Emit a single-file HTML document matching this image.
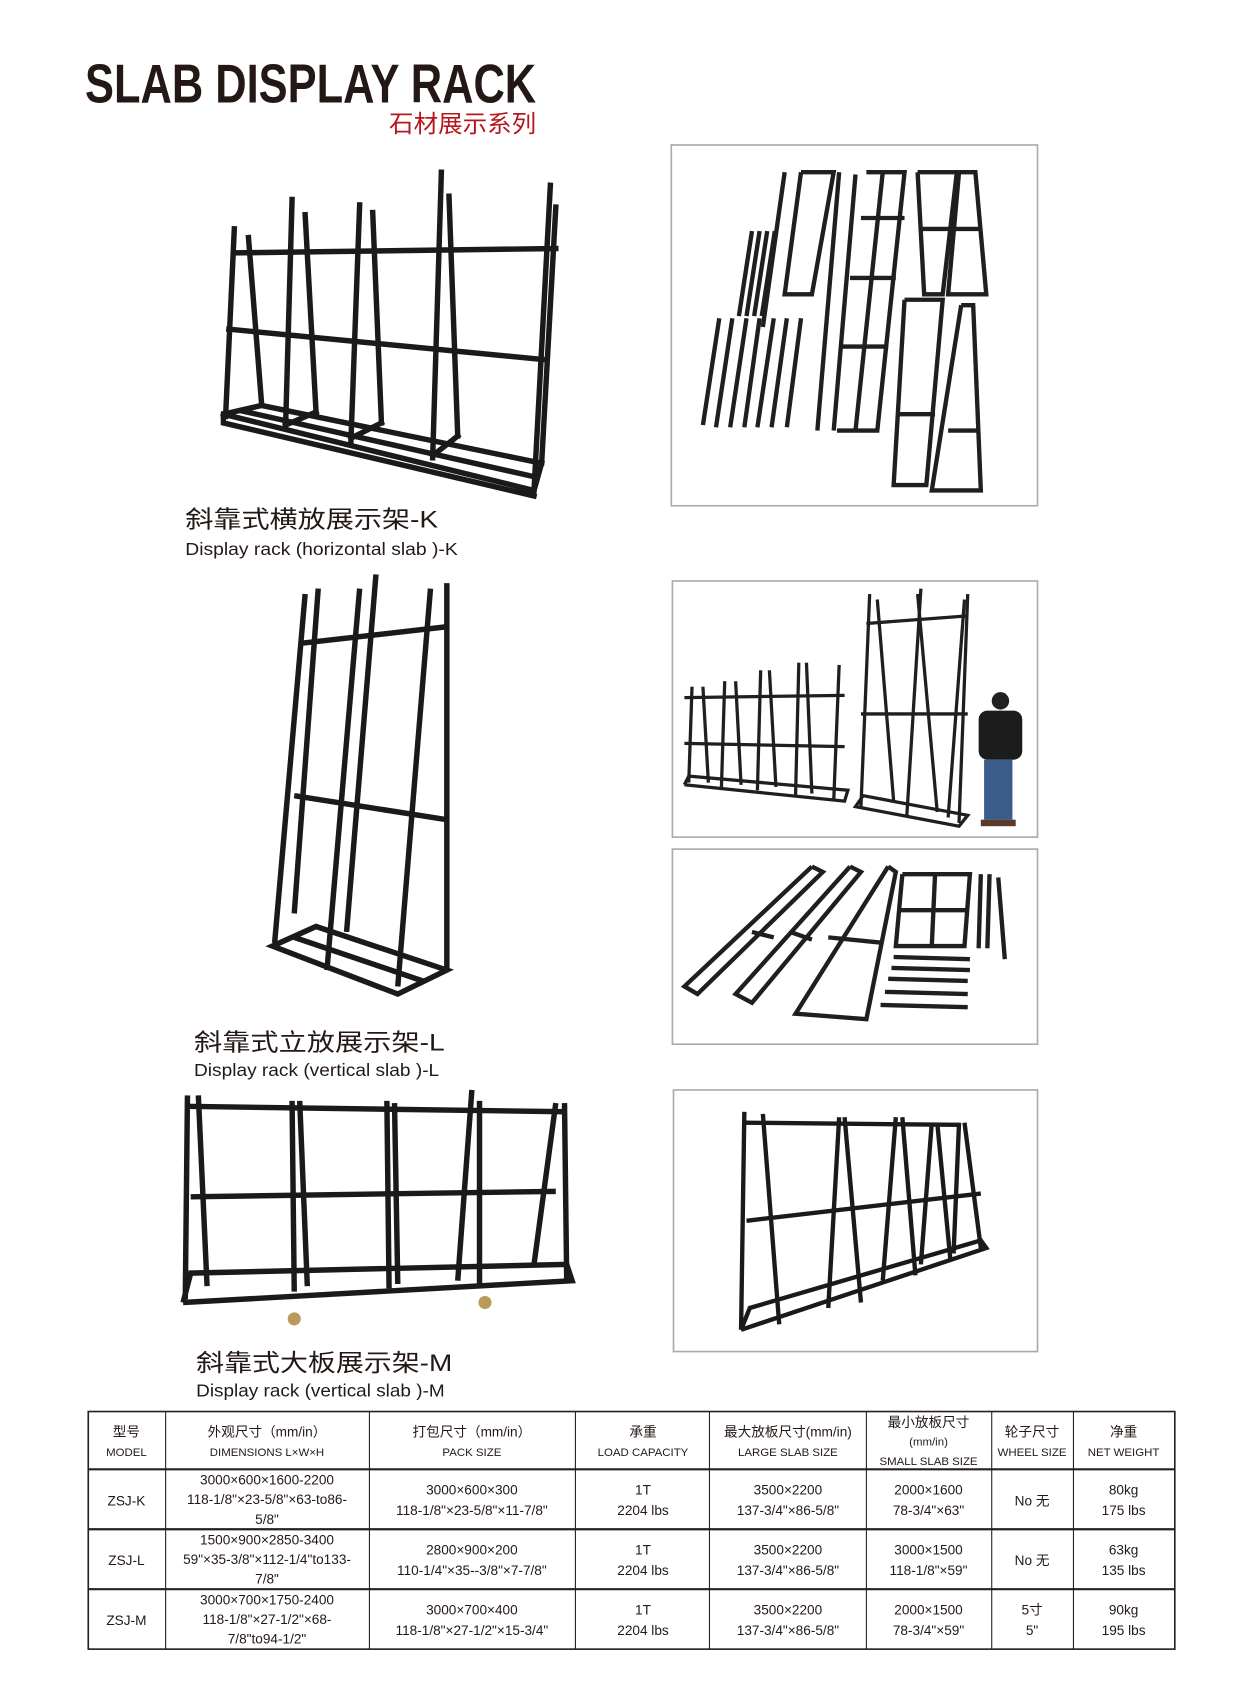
<!DOCTYPE html>
<html><head><meta charset="utf-8"><style>
html,body{margin:0;padding:0;background:#fff;}
svg{display:block}
.t{font-family:"Liberation Sans","Noto Sans CJK SC",sans-serif;fill:#231815}
</style></head><body>
<svg width="1256" height="1708" viewBox="0 0 1152.5 1567" preserveAspectRatio="none" xmlns="http://www.w3.org/2000/svg">
<rect width="1160" height="1577" fill="#fff"/>
<!-- title -->
<text class="t" x="78" y="94" font-size="50" font-weight="bold" textLength="414" lengthAdjust="spacingAndGlyphs">SLAB DISPLAY RACK</text>
<text class="t" x="357" y="121" font-size="22" style="fill:#b5171d" textLength="135" lengthAdjust="spacingAndGlyphs">石材展示系列</text>

<!-- Rack K -->
<g stroke="#1a1a1a" stroke-width="5" fill="none" stroke-linecap="square">
<line x1="215" y1="210" x2="207" y2="382"/><line x1="228" y1="218" x2="240" y2="370"/>
<line x1="268" y1="183" x2="262" y2="393"/><line x1="280" y1="197" x2="290" y2="378"/>
<line x1="330" y1="188" x2="322" y2="405"/><line x1="342" y1="195" x2="350" y2="388"/>
<line x1="405" y1="158" x2="397" y2="420"/><line x1="412" y1="180" x2="420" y2="400"/>
<line x1="505" y1="170" x2="490" y2="450"/><line x1="510" y1="190" x2="497" y2="425"/>
<line x1="215" y1="232" x2="510" y2="228"/>
<line x1="210" y1="302" x2="500" y2="330"/>
<polyline points="205,380 490,450 497,425 240,372 205,380 205,388 490,455"/>
<line x1="222" y1="377" x2="493" y2="438"/>
<line x1="262" y1="390" x2="290" y2="378"/><line x1="322" y1="402" x2="350" y2="388"/><line x1="397" y1="418" x2="420" y2="400"/>
</g>

<!-- Box 1 -->
<rect x="616" y="133" width="336" height="331" fill="#fff" stroke="#aaa" stroke-width="1.5"/>
<g stroke="#1f1f1f" stroke-width="4" fill="none">
<line x1="720" y1="158" x2="700" y2="300"/>
<polyline points="735,158 765,158 745,270 720,270 735,158"/>
<line x1="770" y1="158" x2="750" y2="395"/><line x1="785" y1="160" x2="765" y2="395"/>
<polyline points="795,158 830,158 805,395 768,395"/><line x1="810" y1="158" x2="785" y2="395"/>
<line x1="790" y1="200" x2="830" y2="200"/><line x1="780" y1="255" x2="822" y2="255"/><line x1="770" y1="318" x2="815" y2="318"/>
<polyline points="842,158 878,158 865,270 848,270 842,158"/><line x1="845" y1="210" x2="872" y2="210"/>
<polyline points="880,158 895,158 905,270 870,270 880,158"/><line x1="876" y1="210" x2="900" y2="210"/>
<polyline points="830,275 865,275 850,445 820,445 830,275"/><line x1="825" y1="380" x2="858" y2="380"/>
<polyline points="882,280 893,280 900,450 855,450 882,280"/><line x1="870" y1="395" x2="897" y2="395"/>
<line x1="690" y1="212" x2="678" y2="290"/><line x1="697" y1="212" x2="685" y2="290"/><line x1="704" y1="212" x2="692" y2="290"/><line x1="711" y1="212" x2="699" y2="290"/>
<line x1="660" y1="292" x2="645" y2="390"/><line x1="672" y1="292" x2="657" y2="392"/><line x1="685" y1="292" x2="670" y2="392"/><line x1="697" y1="292" x2="683" y2="392"/><line x1="710" y1="292" x2="695" y2="392"/><line x1="722" y1="292" x2="708" y2="392"/><line x1="735" y1="292" x2="722" y2="392"/>
</g>
<text class="t" x="170" y="484" font-size="22" textLength="232" lengthAdjust="spacingAndGlyphs">斜靠式横放展示架-K</text>
<text class="t" x="170" y="509" font-size="16" textLength="250" lengthAdjust="spacingAndGlyphs">Display rack (horizontal slab )-K</text>

<!-- Rack L -->
<g stroke="#1a1a1a" stroke-width="5" fill="none">
<line x1="280" y1="545" x2="252" y2="865"/><line x1="292" y1="540" x2="270" y2="838"/>
<line x1="330" y1="540" x2="300" y2="890"/><line x1="345" y1="527" x2="318" y2="855"/>
<line x1="395" y1="540" x2="365" y2="905"/><line x1="410" y1="535" x2="410" y2="890"/>
<line x1="278" y1="590" x2="410" y2="575"/><line x1="270" y1="730" x2="410" y2="752"/>
<polygon points="250,868 365,912 410,890 290,850"/>
<line x1="270" y1="860" x2="388" y2="900"/>
</g>
<text class="t" x="178" y="964" font-size="22" textLength="230" lengthAdjust="spacingAndGlyphs">斜靠式立放展示架-L</text>
<text class="t" x="178" y="987" font-size="16" textLength="225" lengthAdjust="spacingAndGlyphs">Display rack (vertical slab )-L</text>

<!-- Box 2 -->
<rect x="617" y="533" width="335" height="235" fill="#fff" stroke="#aaa" stroke-width="1.5"/>
<g stroke="#1f1f1f" stroke-width="3" fill="none">
<line x1="628" y1="640" x2="775" y2="638"/><line x1="628" y1="682" x2="775" y2="685"/>
<polyline points="628,720 775,735 778,725 632,712 628,720"/>
<line x1="635" y1="630" x2="632" y2="718"/><line x1="665" y1="625" x2="662" y2="722"/><line x1="698" y1="615" x2="695" y2="725"/><line x1="733" y1="608" x2="730" y2="730"/><line x1="770" y1="610" x2="765" y2="735"/>
<line x1="645" y1="630" x2="650" y2="718"/><line x1="675" y1="625" x2="680" y2="720"/><line x1="706" y1="615" x2="712" y2="722"/><line x1="740" y1="608" x2="745" y2="728"/>
<line x1="798" y1="545" x2="790" y2="740"/><line x1="845" y1="540" x2="832" y2="750"/><line x1="888" y1="545" x2="880" y2="755"/>
<line x1="805" y1="550" x2="820" y2="735"/><line x1="842" y1="545" x2="860" y2="745"/><line x1="885" y1="550" x2="870" y2="750"/>
<line x1="795" y1="572" x2="888" y2="565"/><line x1="790" y1="655" x2="888" y2="655"/>
<polygon points="785,740 880,758 888,748 792,730"/>
</g>
<g><circle cx="918" cy="643" r="8" fill="#222"/><rect x="898" y="652" width="40" height="45" rx="8" fill="#1c1c1c"/><rect x="903" y="697" width="26" height="55" fill="#3b5b8a"/><rect x="900" y="752" width="32" height="6" fill="#5a3a2a"/></g>

<!-- Box 3 -->
<rect x="617" y="779" width="335" height="179" fill="#fff" stroke="#aaa" stroke-width="1.5"/>
<g stroke="#1f1f1f" stroke-width="4" fill="none">
<polyline points="745,795 755,800 640,912 628,905 745,795"/><line x1="690" y1="855" x2="710" y2="860"/>
<polyline points="780,795 790,800 690,920 675,912 780,795"/><line x1="725" y1="855" x2="745" y2="862"/>
<polyline points="815,795 822,800 795,935 730,930 815,795"/><line x1="760" y1="860" x2="810" y2="865"/>
<polyline points="828,802 890,802 885,868 822,868 828,802"/><line x1="858" y1="802" x2="855" y2="868"/><line x1="825" y1="835" x2="888" y2="835"/>
<line x1="900" y1="802" x2="898" y2="870"/><line x1="908" y1="802" x2="906" y2="870"/><line x1="916" y1="805" x2="922" y2="880"/>
<line x1="820" y1="878" x2="890" y2="880"/><line x1="818" y1="888" x2="890" y2="890"/><line x1="815" y1="898" x2="888" y2="900"/><line x1="812" y1="910" x2="888" y2="912"/><line x1="808" y1="922" x2="888" y2="924"/>
</g>

<!-- Rack M -->
<g stroke="#1a1a1a" stroke-width="5" fill="none">
<line x1="170" y1="1015" x2="520" y2="1020"/><line x1="175" y1="1098" x2="510" y2="1093"/>
<polyline points="168,1195 525,1175 520,1160 175,1168 168,1195"/>
<line x1="172" y1="1005" x2="170" y2="1192"/><line x1="182" y1="1005" x2="190" y2="1180"/>
<line x1="268" y1="1010" x2="270" y2="1185"/><line x1="275" y1="1010" x2="282" y2="1180"/>
<line x1="355" y1="1010" x2="357" y2="1182"/><line x1="362" y1="1012" x2="365" y2="1178"/>
<line x1="433" y1="1000" x2="420" y2="1175"/><line x1="440" y1="1010" x2="440" y2="1178"/>
<line x1="510" y1="1012" x2="490" y2="1160"/><line x1="518" y1="1012" x2="520" y2="1175"/>
</g>
<circle cx="270" cy="1210" r="6" fill="#b89a5a"/><circle cx="445" cy="1195" r="6" fill="#b89a5a"/>
<text class="t" x="180" y="1258" font-size="22" textLength="235" lengthAdjust="spacingAndGlyphs">斜靠式大板展示架-M</text>
<text class="t" x="180" y="1281" font-size="16" textLength="228" lengthAdjust="spacingAndGlyphs">Display rack (vertical slab )-M</text>

<!-- Box 4 -->
<rect x="618" y="1000" width="334" height="240" fill="#fff" stroke="#aaa" stroke-width="1.5"/>
<g stroke="#1a1a1a" stroke-width="4" fill="none">
<line x1="683" y1="1030" x2="880" y2="1032"/><line x1="685" y1="1120" x2="900" y2="1095"/>
<polyline points="680,1220 905,1145 900,1138 688,1200 680,1220"/>
<line x1="683" y1="1020" x2="680" y2="1220"/><line x1="700" y1="1022" x2="715" y2="1215"/>
<line x1="770" y1="1025" x2="760" y2="1200"/><line x1="775" y1="1025" x2="790" y2="1195"/>
<line x1="822" y1="1025" x2="810" y2="1175"/><line x1="828" y1="1025" x2="840" y2="1170"/>
<line x1="855" y1="1030" x2="845" y2="1160"/><line x1="860" y1="1030" x2="872" y2="1155"/>
<line x1="880" y1="1030" x2="875" y2="1150"/><line x1="885" y1="1030" x2="900" y2="1145"/>
</g>

<!-- Table -->
<g stroke="#222" fill="none">
<rect x="81" y="1295" width="997" height="218" stroke-width="1.5"/>
<line x1="81" y1="1348" x2="1078" y2="1348" stroke-width="2"/>
<line x1="81" y1="1403" x2="1078" y2="1403" stroke-width="2"/>
<line x1="81" y1="1458" x2="1078" y2="1458" stroke-width="2"/>
<line x1="152" y1="1295" x2="152" y2="1513"/><line x1="339" y1="1295" x2="339" y2="1513"/><line x1="528" y1="1295" x2="528" y2="1513"/><line x1="651" y1="1295" x2="651" y2="1513"/><line x1="795" y1="1295" x2="795" y2="1513"/><line x1="910" y1="1295" x2="910" y2="1513"/><line x1="985" y1="1295" x2="985" y2="1513"/>
</g>
<g class="t" text-anchor="middle" font-size="12.5">
<text x="116" y="1318">型号</text><text x="116" y="1336" font-size="10.5">MODEL</text>
<text x="245" y="1318">外观尺寸（mm/in）</text><text x="245" y="1336" font-size="10.5">DIMENSIONS  L×W×H</text>
<text x="433" y="1318">打包尺寸（mm/in）</text><text x="433" y="1336" font-size="10.5">PACK SIZE</text>
<text x="590" y="1318">承重</text><text x="590" y="1336" font-size="10.5">LOAD CAPACITY</text>
<text x="723" y="1318">最大放板尺寸(mm/in)</text><text x="723" y="1336" font-size="10.5">LARGE SLAB SIZE</text>
<text x="852" y="1309">最小放板尺寸</text><text x="852" y="1326" font-size="10.5">(mm/in)</text><text x="852" y="1344" font-size="10.5">SMALL SLAB SIZE</text>
<text x="947" y="1318">轮子尺寸</text><text x="947" y="1336" font-size="10.5">WHEEL SIZE</text>
<text x="1031" y="1318">净重</text><text x="1031" y="1336" font-size="10.5">NET WEIGHT</text>

<text x="116" y="1381">ZSJ-K</text>
<text x="245" y="1362">3000×600×1600-2200</text><text x="245" y="1380">118-1/8"×23-5/8"×63-to86-</text><text x="245" y="1398">5/8"</text>
<text x="433" y="1371">3000×600×300</text><text x="433" y="1390">118-1/8"×23-5/8"×11-7/8"</text>
<text x="590" y="1371">1T</text><text x="590" y="1390">2204 lbs</text>
<text x="723" y="1371">3500×2200</text><text x="723" y="1390">137-3/4"×86-5/8"</text>
<text x="852" y="1371">2000×1600</text><text x="852" y="1390">78-3/4"×63"</text>
<text x="947" y="1381">No 无</text>
<text x="1031" y="1371">80kg</text><text x="1031" y="1390">175 lbs</text>

<text x="116" y="1436">ZSJ-L</text>
<text x="245" y="1417">1500×900×2850-3400</text><text x="245" y="1435">59"×35-3/8"×112-1/4"to133-</text><text x="245" y="1453">7/8"</text>
<text x="433" y="1426">2800×900×200</text><text x="433" y="1445">110-1/4"×35--3/8"×7-7/8"</text>
<text x="590" y="1426">1T</text><text x="590" y="1445">2204 lbs</text>
<text x="723" y="1426">3500×2200</text><text x="723" y="1445">137-3/4"×86-5/8"</text>
<text x="852" y="1426">3000×1500</text><text x="852" y="1445">118-1/8"×59"</text>
<text x="947" y="1436">No 无</text>
<text x="1031" y="1426">63kg</text><text x="1031" y="1445">135 lbs</text>

<text x="116" y="1491">ZSJ-M</text>
<text x="245" y="1472">3000×700×1750-2400</text><text x="245" y="1490">118-1/8"×27-1/2"×68-</text><text x="245" y="1508">7/8"to94-1/2"</text>
<text x="433" y="1481">3000×700×400</text><text x="433" y="1500">118-1/8"×27-1/2"×15-3/4"</text>
<text x="590" y="1481">1T</text><text x="590" y="1500">2204 lbs</text>
<text x="723" y="1481">3500×2200</text><text x="723" y="1500">137-3/4"×86-5/8"</text>
<text x="852" y="1481">2000×1500</text><text x="852" y="1500">78-3/4"×59"</text>
<text x="947" y="1481">5寸</text><text x="947" y="1500">5"</text>
<text x="1031" y="1481">90kg</text><text x="1031" y="1500">195 lbs</text>
</g>
</svg>
</body></html>
